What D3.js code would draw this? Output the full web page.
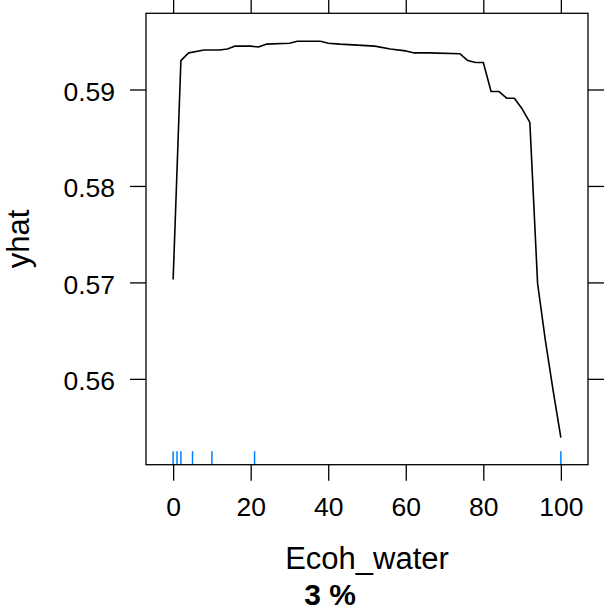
<!DOCTYPE html>
<html>
<head>
<meta charset="utf-8">
<script src="https://cdn.jsdelivr.net/npm/d3@7"></script>
<style>
  html, body { margin: 0; padding: 0; background: #fff; }
  svg { display: block; }
  text { font-family: "Liberation Sans", Arial, sans-serif; fill: #000; }
</style>
</head>
<body>
<svg id="chart" width="605" height="613"></svg>
<script>
// ---- data ----
const xValues = [0, 2, 4, 8, 12, 14, 16, 20, 22, 24, 30, 32, 38, 40, 43, 52, 56, 60, 62, 66, 74, 76, 78, 80, 82, 84, 86, 88, 90, 92, 94, 96, 98, 100];
const yhatValues = [0.5703, 0.5930, 0.5938, 0.5941, 0.5941, 0.5942, 0.5945, 0.5945, 0.5944, 0.5947, 0.5948, 0.5950, 0.5950, 0.5948, 0.5947, 0.5945, 0.5942, 0.5940, 0.5938, 0.5938, 0.5937, 0.5930, 0.5928, 0.5928, 0.5898, 0.5898, 0.5891, 0.5891, 0.5880, 0.5866, 0.5699, 0.5640, 0.5588, 0.5539];
const rugValues = [0, 1, 2, 5, 10, 21, 100];
const xTicks = [0, 20, 40, 60, 80, 100];
const yTicks = [0.56, 0.57, 0.58, 0.59];
const xDomain = [-7, 107];
const yDomain = [0.5511, 0.5979];
const xLabel = "Ecoh_water";
const yLabel = "yhat";
const subLabel = "3 %";

// ---- layout ----
const pL = 146, pR = 588, pT = 13.3, pB = 464.7;
const tickLen = 16;
const svg = d3.select("#chart");

const x = d3.scaleLinear().domain(xDomain).range([pL, pR]);
const y = d3.scaleLinear().domain(yDomain).range([pB, pT]);

// axes
const styleAxis = g => {
  g.select(".domain").remove();
  g.selectAll(".tick line").attr("stroke", "#000").attr("stroke-width", 1.3);
  g.selectAll(".tick text").style("font-size", "26.5px").style("font-family", '"Liberation Sans", Arial, sans-serif').attr("fill", "#000");
};

svg.append("g").attr("transform", `translate(0,${pB})`)
  .call(d3.axisBottom(x).tickValues(xTicks).tickSize(tickLen).tickPadding(16).tickFormat(d3.format("d")))
  .call(styleAxis);
svg.append("g").attr("transform", `translate(0,${pT})`)
  .call(d3.axisTop(x).tickValues(xTicks).tickSize(tickLen).tickFormat(""))
  .call(styleAxis);
svg.append("g").attr("transform", `translate(${pL},0)`)
  .call(d3.axisLeft(y).tickValues(yTicks).tickSize(tickLen).tickPadding(15).tickFormat(d3.format(".2f")))
  .call(styleAxis)
  .call(g => g.selectAll(".tick text").attr("dy", "0.4em"));
svg.append("g").attr("transform", `translate(${pR},0)`)
  .call(d3.axisRight(y).tickValues(yTicks).tickSize(tickLen).tickFormat(""))
  .call(styleAxis);

// rug
svg.append("g").selectAll("line").data(rugValues).join("line")
  .attr("x1", d => x(d)).attr("x2", d => x(d))
  .attr("y1", pB - 13.5).attr("y2", pB)
  .attr("stroke", "#0080ff").attr("stroke-width", 1.5);

// line
const line = d3.line().x((d, i) => x(xValues[i])).y(d => y(d));
svg.append("path").datum(yhatValues)
  .attr("d", line).attr("fill", "none")
  .attr("stroke", "#000").attr("stroke-width", 1.6).attr("stroke-linejoin", "round");

// box
svg.append("rect").attr("x", pL).attr("y", pT)
  .attr("width", pR - pL).attr("height", pB - pT)
  .attr("fill", "none").attr("stroke", "#000").attr("stroke-width", 1.3);

// labels
svg.append("text").attr("x", (pL + pR) / 2).attr("y", 569)
  .attr("text-anchor", "middle").style("font-size", "31px").text(xLabel);
svg.append("text").attr("x", 330).attr("y", 605)
  .attr("text-anchor", "middle").style("font-size", "30px").style("font-weight", "bold").text(subLabel);
svg.append("text").attr("transform", `translate(29,${(pT + pB) / 2}) rotate(-90)`)
  .attr("text-anchor", "middle").style("font-size", "31px").text(yLabel);
</script>
</body>
</html>
